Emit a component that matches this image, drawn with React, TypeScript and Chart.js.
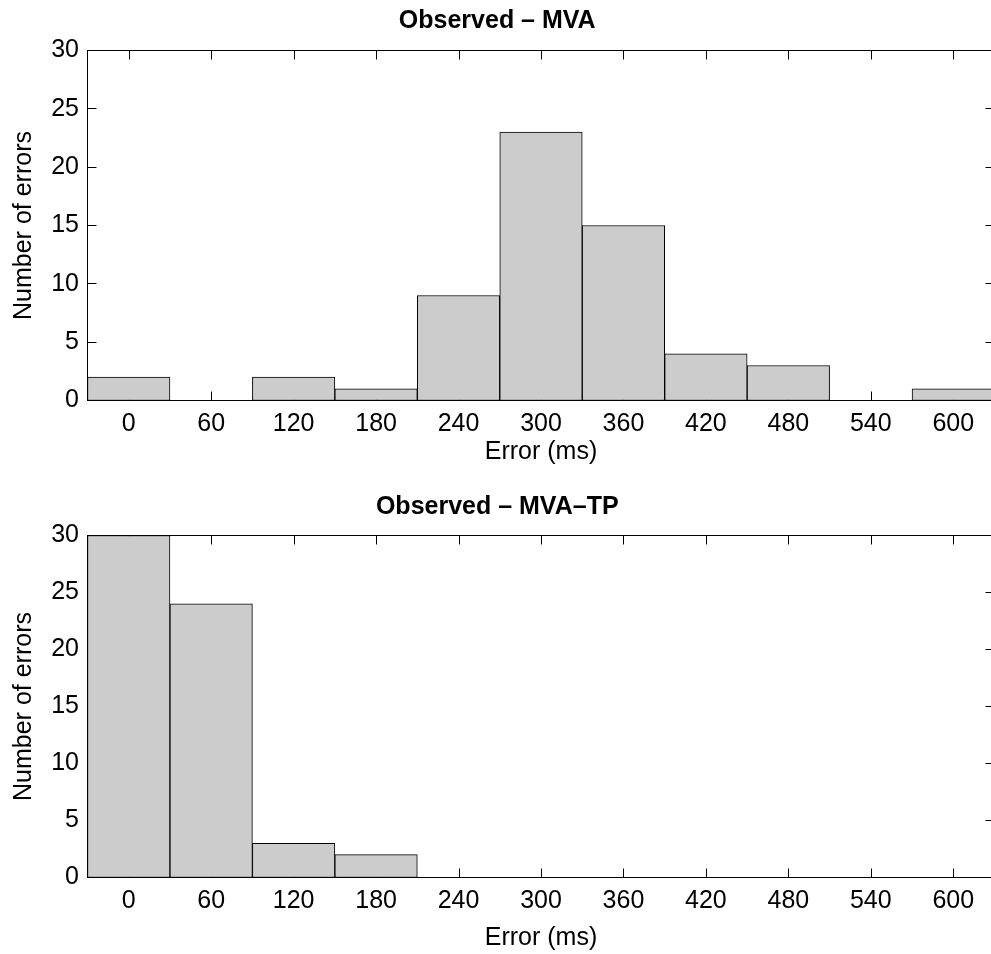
import React, { useEffect, useRef } from "react";
import { Chart, registerables } from "chart.js";

Chart.register(...registerables);

const binCenters = [0, 60, 120, 180, 240, 300, 360, 420, 480, 540, 600];
const mvaCounts = [2, 0, 2, 1, 9, 23, 15, 4, 3, 0, 1];
const mvaTpCounts = [30, 24, 3, 2, 0, 0, 0, 0, 0, 0, 0];
const yTickValues = [0, 5, 10, 15, 20, 25, 30];
const titles = ["Observed \u2013 MVA", "Observed \u2013 MVA\u2013TP"];
const xLabel = "Error (ms)";
const yLabel = "Number of errors";

const FONT = "'Liberation Sans', Arial, Helvetica, sans-serif";
const CANVAS_W = 1000;
const CANVAS_H = 477;

const boxPlugin = {
  id: "matlabBox",
  beforeDatasetsDraw(chart: any) {
    const { ctx, chartArea: a, scales } = chart;
    const L = 9;
    ctx.save();
    ctx.strokeStyle = "#000";
    ctx.lineWidth = 1;
    ctx.beginPath();
    scales.x.ticks.forEach((t: any) => {
      const px = Math.round(scales.x.getPixelForValue(t.value)) + 0.5;
      ctx.moveTo(px, a.bottom);
      ctx.lineTo(px, a.bottom - L);
      ctx.moveTo(px, a.top);
      ctx.lineTo(px, a.top + L);
    });
    scales.y.ticks.forEach((t: any) => {
      const py = Math.round(scales.y.getPixelForValue(t.value) - 0.5) + 0.5;
      ctx.moveTo(a.left, py);
      ctx.lineTo(a.left + L, py);
      ctx.moveTo(a.right, py);
      ctx.lineTo(a.right - L, py);
    });
    ctx.stroke();
    ctx.restore();
  },
  afterDatasetsDraw(chart: any) {
    const { ctx, chartArea: a } = chart;
    ctx.save();
    ctx.strokeStyle = "#000";
    ctx.lineWidth = 1;
    ctx.strokeRect(a.left, a.top, a.right - a.left, a.bottom - a.top);
    ctx.restore();
  },
};

function makeConfig(values: number[], title: string, titlePad: { top: number; bottom: number }, xTitlePadBottom: number) {
  return {
    type: "bar" as const,
    data: {
      datasets: [
        {
          data: binCenters.map((c, i) => ({ x: c, y: values[i] })),
          backgroundColor: "#cccccc",
          borderColor: "#000000",
          borderWidth: 1,
          borderSkipped: false,
          barPercentage: 1,
          categoryPercentage: 1,
        },
      ],
    },
    options: {
      responsive: false,
      devicePixelRatio: 1,
      animation: false,
      layout: { padding: { left: 0, right: 5.5, top: 0, bottom: 0 } },
      plugins: {
        legend: { display: false },
        tooltip: { enabled: false },
        title: {
          display: true,
          text: title,
          color: "#000",
          font: { family: FONT, size: 25, weight: "bold", lineHeight: 1.2 },
          padding: titlePad,
        },
      },
      scales: {
        x: {
          type: "linear",
          min: -30,
          max: 630,
          offset: false,
          grid: { display: false, drawTicks: false },
          border: { display: false },
          afterBuildTicks: (s: any) => {
            s.ticks = binCenters.map((v) => ({ value: v }));
          },
          afterFit: (s: any) => {
            s.height = CANVAS_H - (CANVAS_H - 76.5);
          },
          ticks: {
            color: "#000",
            padding: 9,
            maxRotation: 0,
            autoSkip: false,
            font: { family: FONT, size: 25 },
            callback: (v: any) => String(v),
          },
          title: {
            display: true,
            text: xLabel,
            color: "#000",
            font: { family: FONT, size: 25, lineHeight: 1.2 },
            padding: { top: 0, bottom: xTitlePadBottom },
          },
        },
        y: {
          type: "linear",
          min: 0,
          max: 30,
          grid: { display: false, drawTicks: false },
          border: { display: false },
          afterBuildTicks: (s: any) => {
            s.ticks = yTickValues.map((v) => ({ value: v }));
          },
          afterFit: (s: any) => {
            s.width = 87.5;
          },
          ticks: {
            color: "#000",
            padding: 8.5,
            font: { family: FONT, size: 25 },
            callback: (v: any) => String(v),
          },
          title: {
            display: true,
            text: yLabel,
            color: "#000",
            font: { family: FONT, size: 25, lineHeight: 1.2 },
            padding: { top: 9, bottom: 0 },
          },
        },
      },
    },
    plugins: [boxPlugin],
  };
}

export default function App() {
  const ref1 = useRef<HTMLCanvasElement>(null);
  const ref2 = useRef<HTMLCanvasElement>(null);

  useEffect(() => {
    const c1 = new Chart(ref1.current as any, makeConfig(mvaCounts, titles[0], { top: 6, bottom: 14.5 }, 10) as any);
    const c2 = new Chart(ref2.current as any, makeConfig(mvaTpCounts, titles[1], { top: 15.5, bottom: 13 }, 0.5) as any);
    return () => {
      c1.destroy();
      c2.destroy();
    };
  }, []);

  return (
    <div
      style={{
        position: "absolute",
        left: 0,
        top: 0,
        width: 991,
        height: 954,
        overflow: "hidden",
        background: "#fff",
      }}
    >
      <canvas
        ref={ref1}
        width={CANVAS_W}
        height={CANVAS_H}
        style={{ position: "absolute", left: 0, top: 0, width: CANVAS_W, height: CANVAS_H }}
      />
      <canvas
        ref={ref2}
        width={CANVAS_W}
        height={CANVAS_H}
        style={{ position: "absolute", left: 0, top: CANVAS_H, width: CANVAS_W, height: CANVAS_H }}
      />
    </div>
  );
}
